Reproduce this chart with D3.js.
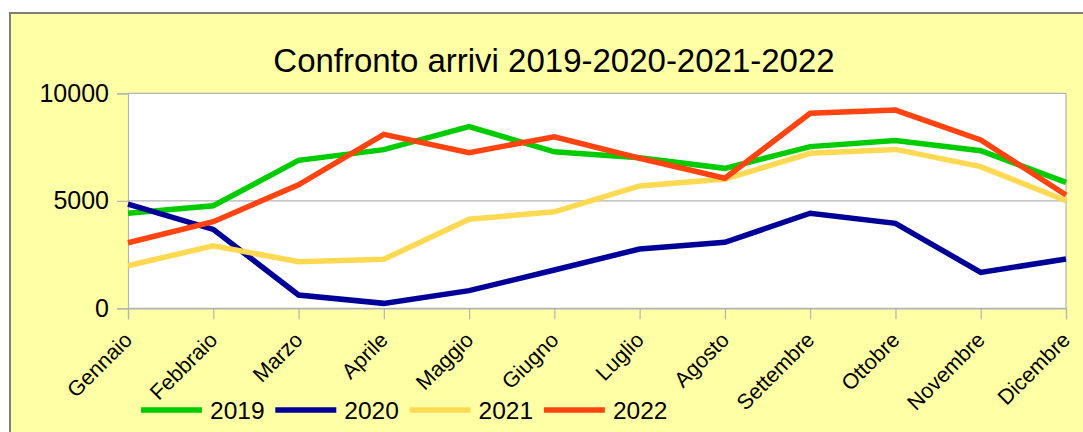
<!DOCTYPE html>
<html><head><meta charset="utf-8">
<script src="https://cdn.jsdelivr.net/npm/d3@7"></script>
<style>html,body{margin:0;padding:0;background:#fff;}svg{display:block;font-family:"Liberation Sans",Arial,sans-serif;}</style>
</head><body>
<svg id="c" width="1083" height="432"></svg>
<script>
const months = ["Gennaio","Febbraio","Marzo","Aprile","Maggio","Giugno","Luglio","Agosto","Settembre","Ottobre","Novembre","Dicembre"];
const years = ["2019","2020","2021","2022"];
const v2019 = [4420,4770,6880,7380,8450,7280,7000,6510,7520,7800,7330,5860];
const v2020 = [4850,3670,620,230,820,1780,2760,3070,4420,3950,1670,2290];
const v2021 = [1980,2910,2170,2280,4140,4490,5690,6010,7210,7390,6590,5000];
const v2022 = [3050,4030,5740,8090,7240,7980,6980,6050,9070,9220,7830,5270];
const yTicks = [0,5000,10000];
const title = "Confronto arrivi 2019-2020-2021-2022";
const colors = ["#00cc00","#000099","#ffd952","#ff4411"];
const seriesVals = [v2019,v2020,v2021,v2022];

const svg = d3.select("#c");
svg.append("rect").attr("x",10).attr("y",13).attr("width",1100).attr("height",440)
  .attr("fill","#ffffa6").attr("stroke","#7f7f7f").attr("stroke-width",2);

svg.append("text").attr("x",554).attr("y",72).attr("text-anchor","middle")
  .attr("font-size",33).attr("fill","#000").text(title);

const L=128,R=1066,T=93.3,B=308.3;
const x = d3.scalePoint().domain(months).range([L,R]);
const y = d3.scaleLinear().domain([0,10000]).range([B,T]);

svg.append("rect").attr("x",L).attr("y",T).attr("width",R-L).attr("height",B-T).attr("fill","#fff");

svg.append("g").selectAll("line").data(yTicks).join("line")
  .attr("x1",L).attr("x2",R).attr("y1",d=>y(d)).attr("y2",d=>y(d))
  .attr("stroke","#b3b3b3").attr("stroke-width",1.2);
svg.append("line").attr("x1",R).attr("x2",R).attr("y1",T).attr("y2",B).attr("stroke","#b3b3b3").attr("stroke-width",1.2);

const yAxis = d3.axisLeft(y).tickValues(yTicks).tickSize(11).tickPadding(8).tickFormat(d3.format("d"));
const gy = svg.append("g").attr("transform",`translate(${L},0)`).call(yAxis);
gy.select(".domain").attr("stroke","#b3b3b3").attr("stroke-width",1.2);
gy.selectAll(".tick line").attr("stroke","#b3b3b3").attr("stroke-width",1.2);
gy.selectAll("text").attr("font-size",25).attr("fill","#000").attr("font-family","Liberation Sans, Arial, sans-serif");

const xAxis = d3.axisBottom(x).tickSize(11).tickPadding(0);
const gx = svg.append("g").attr("transform",`translate(0,${B})`).call(xAxis);
gx.select(".domain").attr("stroke","#b3b3b3").attr("stroke-width",1.2);
gx.selectAll(".tick line").attr("stroke","#b3b3b3").attr("stroke-width",1.2);
gx.selectAll("text").attr("font-size",21.5).attr("fill","#000").attr("font-family","Liberation Sans, Arial, sans-serif")
  .attr("text-anchor","end").attr("dy",null).attr("y",null)
  .attr("transform","translate(5,33) rotate(-45)");

const line = d3.line().x((d,i)=>x(months[i])).y(d=>y(d)).curve(d3.curveLinear);
svg.append("g").selectAll("path").data(seriesVals).join("path")
  .attr("d",d=>line(d)).attr("fill","none")
  .attr("stroke",(d,i)=>colors[i]).attr("stroke-width",5.5)
  .attr("stroke-linejoin","miter").attr("stroke-linecap","butt");

const lg = svg.append("g");
const lx0 = 141, step = 134.3, ly = 410;
years.forEach((yr,i)=>{
  const gx0 = lx0 + i*step;
  lg.append("line").attr("x1",gx0).attr("x2",gx0+61).attr("y1",ly).attr("y2",ly)
    .attr("stroke",colors[i]).attr("stroke-width",5.5);
  lg.append("text").attr("x",gx0+69).attr("y",ly+9).attr("font-size",24.5).attr("fill","#000").text(yr);
});
</script>
</body></html>
